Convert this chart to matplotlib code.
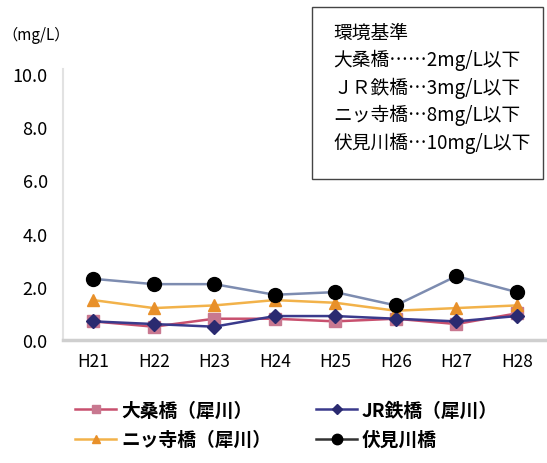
import matplotlib

matplotlib.use("Agg")

import matplotlib.pyplot as plt
from matplotlib.lines import Line2D
from matplotlib.patches import Rectangle

plt.rcParams["font.family"] = ["Noto Sans CJK JP", "DejaVu Sans"]

years = ["H21", "H22", "H23", "H24", "H25", "H26", "H27", "H28"]
ohkuwa = [0.7, 0.5, 0.8, 0.8, 0.7, 0.8, 0.6, 1.0]
jr_bridge = [0.7, 0.6, 0.5, 0.9, 0.9, 0.8, 0.7, 0.9]
futatsuji = [1.5, 1.2, 1.3, 1.5, 1.4, 1.1, 1.2, 1.3]
fushimi = [2.3, 2.1, 2.1, 1.7, 1.8, 1.3, 2.4, 1.8]
y_ticks = [0.0, 2.0, 4.0, 6.0, 8.0, 10.0]

standard_lines = [
    "環境基準",
    "大桑橋……2mg/L以下",
    "ＪＲ鉄橋…3mg/L以下",
    "ニッ寺橋…8mg/L以下",
    "伏見川橋…10mg/L以下",
]

W, H = 547, 464
fig = plt.figure(figsize=(W / 100, H / 100), dpi=100)
ax = fig.add_axes([63 / W, (H - 341) / H, (W - 63) / W, (341 - 70) / H])

x = list(range(len(years)))
# data, label, line colour, marker, marker colour, marker size, legend line colour
series = [
    (ohkuwa, "大桑橋（犀川）", "#c8506e", "s", "#c87890", 8, "#c8506e"),
    (futatsuji, "ニッ寺橋（犀川）", "#f2b24a", "^", "#e8902a", 8, "#f2b24a"),
    (jr_bridge, "JR鉄橋（犀川）", "#3a3a8c", "D", "#2a2a70", 7, "#3a3a8c"),
    (fushimi, "伏見川橋", "#7d8cb0", "o", "#000000", 10, "#333333"),
]
handles = []
for vals, label, lc, mk, mc, ms, legc in series:
    ax.plot(x, vals, color=lc, lw=1.8, marker=mk, ms=ms,
            markerfacecolor=mc, markeredgecolor=mc)
    handles.append(Line2D([], [], color=legc, lw=1.8, marker=mk,
                          ms=ms * 0.75, markerfacecolor=mc,
                          markeredgecolor=mc, label=label))

ax.set_xlim(-0.5, 7.5)
ax.set_ylim(0, 10 * 271 / 266)
ax.set_xticks(x)
ax.set_xticklabels(years, fontsize=12.5)
ax.set_yticks(y_ticks)
ax.set_yticklabels([f"{v:.1f}" for v in y_ticks], fontsize=13)
ax.tick_params(length=0, pad=9)
ax.tick_params(axis="y", pad=11)
for side in ("top", "right"):
    ax.spines[side].set_visible(False)
ax.spines["left"].set_color("#e2e2e2")
ax.spines["left"].set_linewidth(1.5)
ax.spines["bottom"].set_color("#cfcfcf")
ax.spines["bottom"].set_linewidth(2.5)

fig.text(2 / W, 1 - 35 / H, "（mg/L）", fontsize=11, va="center", ha="left")

# environmental standard box
fig.patches.append(Rectangle((312 / W, 1 - 180 / H), 231 / W, 172 / H,
                             transform=fig.transFigure, facecolor="white",
                             edgecolor="#444444", lw=1.0))
for i, line in enumerate(standard_lines):
    fig.text(333 / W, 1 - (33 + i * 27.5) / H, line, fontsize=13.5,
             va="center", ha="left")

fig.legend(handles=handles, ncol=2,
           loc="center", bbox_to_anchor=(0.524, 1 - 426 / H), frameon=False,
           handlelength=2.2, columnspacing=2.4, labelspacing=0.55,
           handletextpad=0.25, prop={"size": 13.5, "weight": "bold"})

fig.savefig("out.png", dpi=100)
